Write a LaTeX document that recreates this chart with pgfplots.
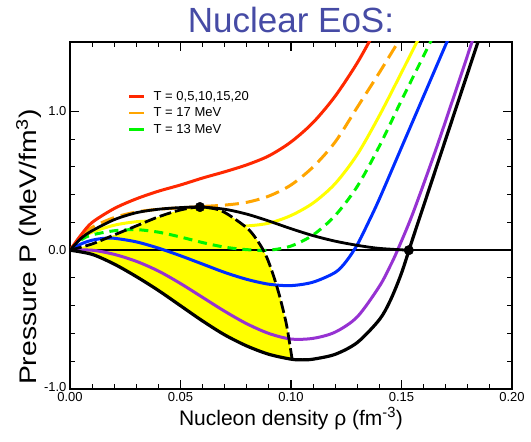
\documentclass[border=0pt]{standalone}
\usepackage{fontspec}
\setmainfont{Liberation Sans}
\usepackage{pgfplots}
\pgfplotsset{compat=1.18}
\usepgfplotslibrary{fillbetween}
\usetikzlibrary{calc}
\definecolor{cRed}{RGB}{255,40,0}
\definecolor{cOrange}{RGB}{255,165,0}
\definecolor{cYellow}{RGB}{255,255,0}
\definecolor{cGreen}{RGB}{0,245,0}
\definecolor{cBlue}{RGB}{0,45,255}
\definecolor{cPurple}{RGB}{150,50,210}
\definecolor{cTitle}{RGB}{70,75,165}
\begin{document}
\begin{tikzpicture}
\begin{axis}[
  name=ax,
  scale only axis, width=442pt, height=347pt,
  xmin=0, xmax=0.2, ymin=-1, ymax=1.5,
  xtick={0,0.05,0.1,0.15,0.2}, ytick={-1,0,1},
  yticklabels={\raisebox{4.5pt}{-1.0},0.0,1.0},
  minor x tick num=4, minor y tick num=4,
  scaled x ticks=false, scaled y ticks=false,
  tick align=inside, major tick length=9pt, minor tick length=5pt,
  major tick style={line width=1.1pt, black},
  minor tick style={line width=1.0pt, black},
  axis line style={line width=1.3pt},
  xticklabel style={/pgf/number format/fixed, /pgf/number format/fixed zerofill, /pgf/number format/precision=2, /pgf/number format/assume math mode=true},
  ticklabel style={font=\fontsize{13}{13}\selectfont},
  xlabel={Nucleon density ρ (fm\textsuperscript{-3})},
  xlabel style={at={(axis description cs:0.5,-0.104)}, anchor=base, font=\fontsize{21}{21}\selectfont},
  legend style={draw=none, fill=none, at={(axis description cs:0.131,0.865)}, anchor=north west, font=\fontsize{13}{13}\selectfont, row sep=2pt, column sep=6pt, inner sep=0pt},
  legend cell align=left,
  legend image code/.code={\draw[#1, line width=2.6pt] (0pt,0pt) -- (15pt,0pt);},
]
% invisible boundaries of the unstable region
\addplot[draw=none, smooth, name path=A, forget plot] coordinates {
(0,0) (0.01,-0.03) (0.02,-0.10) (0.03,-0.19) (0.04,-0.29) (0.05,-0.40) (0.06,-0.51) (0.07,-0.61) (0.08,-0.69) (0.09,-0.75) (0.1005,-0.786)};
\addplot[draw=none, smooth, name path=B, forget plot] coordinates {
(0,0) (0.01,0.045) (0.02,0.11) (0.03,0.175) (0.04,0.24) (0.05,0.29) (0.0588,0.311) (0.0679,0.288) (0.0754,0.216) (0.0814,0.14) (0.086,0.04) (0.089,-0.05) (0.092,-0.18) (0.095,-0.34) (0.098,-0.54) (0.1005,-0.786)};
\addplot[cYellow, forget plot] fill between[of=A and B];
% zero line
\addplot[black, line width=1.7pt, forget plot] coordinates {(0,0) (0.2,0)};
% T = 15
\addplot[cYellow, line width=3pt, smooth, forget plot] coordinates {
(0,0) (0.005,0.085) (0.01,0.13) (0.02,0.18) (0.03,0.205) (0.04,0.21) (0.05,0.20) (0.06,0.185) (0.07,0.175) (0.08,0.175) (0.09,0.195) (0.10,0.25) (0.11,0.34) (0.12,0.48) (0.13,0.69) (0.14,0.97) (0.15,1.28) (0.156,1.47) (0.158,1.53)};
% T = 13
\addplot[cGreen, line width=3pt, smooth, dash pattern=on 9pt off 6pt, forget plot] coordinates {
(0,0) (0.005,0.075) (0.01,0.11) (0.02,0.14) (0.03,0.148) (0.04,0.13) (0.05,0.095) (0.06,0.055) (0.07,0.022) (0.08,0.004) (0.09,0.0) (0.10,0.03) (0.11,0.11) (0.12,0.25) (0.13,0.46) (0.14,0.75) (0.15,1.08) (0.16,1.40) (0.164,1.53)};
% T = 17
\addplot[cOrange, line width=3pt, smooth, dash pattern=on 14pt off 7pt, forget plot] coordinates {
(0,0) (0.005,0.10) (0.01,0.165) (0.02,0.235) (0.03,0.275) (0.04,0.295) (0.05,0.305) (0.06,0.315) (0.07,0.325) (0.08,0.345) (0.09,0.39) (0.10,0.47) (0.11,0.60) (0.12,0.78) (0.13,1.03) (0.14,1.28) (0.15,1.54)};
% T = 20
\addplot[cRed, line width=3pt, smooth, forget plot] coordinates {
(0,0) (0.005,0.11) (0.01,0.20) (0.02,0.30) (0.03,0.37) (0.04,0.425) (0.05,0.47) (0.06,0.52) (0.07,0.565) (0.08,0.615) (0.09,0.68) (0.10,0.78) (0.11,0.92) (0.12,1.11) (0.13,1.35) (0.137,1.55)};
% T = 10
\addplot[cBlue, line width=3pt, smooth, forget plot] coordinates {
(0,0) (0.005,0.045) (0.01,0.072) (0.015,0.085) (0.02,0.086) (0.03,0.06) (0.04,0.015) (0.05,-0.04) (0.06,-0.10) (0.07,-0.16) (0.08,-0.21) (0.09,-0.245) (0.10,-0.255) (0.11,-0.23) (0.12,-0.16) (0.125,-0.08) (0.13,0.04) (0.135,0.20) (0.14,0.37) (0.15,0.74) (0.16,1.11) (0.17,1.48) (0.175,1.66)};
% T = 5
\addplot[cPurple, line width=3pt, smooth, forget plot] coordinates {
(0,0) (0.01,0.0) (0.02,-0.03) (0.03,-0.08) (0.04,-0.15) (0.05,-0.24) (0.06,-0.34) (0.07,-0.44) (0.08,-0.53) (0.09,-0.60) (0.10,-0.64) (0.11,-0.635) (0.12,-0.59) (0.13,-0.48) (0.14,-0.26) (0.145,-0.11) (0.1482,0) (0.155,0.26) (0.165,0.70) (0.175,1.17) (0.185,1.65)};
% T = 0
\addplot[black, line width=3.2pt, smooth, forget plot] coordinates {
(0,0) (0.01,-0.03) (0.02,-0.10) (0.03,-0.19) (0.04,-0.29) (0.05,-0.40) (0.06,-0.51) (0.07,-0.61) (0.08,-0.69) (0.09,-0.75) (0.10,-0.785) (0.105,-0.79) (0.11,-0.785) (0.12,-0.75) (0.13,-0.665) (0.14,-0.50) (0.145,-0.36) (0.15,-0.165) (0.155,0.08) (0.16,0.32) (0.17,0.80) (0.18,1.28) (0.19,1.76)};
% spinodal
\addplot[black, line width=2.8pt, smooth, dash pattern=on 12pt off 4pt, forget plot] coordinates {
(0,0) (0.01,0.045) (0.02,0.11) (0.03,0.175) (0.04,0.24) (0.05,0.29) (0.0588,0.311) (0.0679,0.288) (0.0754,0.216) (0.0814,0.14) (0.086,0.04) (0.089,-0.05) (0.092,-0.18) (0.095,-0.34) (0.098,-0.54) (0.1005,-0.786)};
% coexistence
\addplot[black, line width=2.8pt, smooth, forget plot] coordinates {
(0,0) (0.005,0.085) (0.01,0.14) (0.02,0.22) (0.03,0.27) (0.04,0.295) (0.05,0.307) (0.0588,0.311) (0.07,0.295) (0.08,0.26) (0.09,0.21) (0.10,0.155) (0.11,0.105) (0.12,0.065) (0.13,0.035) (0.14,0.013) (0.1533,0)};
\addplot[black, only marks, mark=*, mark size=4.8pt, forget plot] coordinates {(0.0588,0.311) (0.1533,0)};
\addlegendimage{cRed}
\addlegendentry{T = 0,5,10,15,20}
\addlegendimage{cOrange}
\addlegendentry{T = 17 MeV}
\addlegendimage{cGreen}
\addlegendentry{T = 13 MeV}
\end{axis}
\node[anchor=base, font=\fontsize{35}{35}\selectfont, text=cTitle] at ($(ax.north)+(0pt,9pt)$) {Nuclear EoS:};
\node[rotate=90, anchor=base, font=\fontsize{24}{24}\selectfont] at ($(ax.south west)+(-33pt,142pt)$) {\scalebox{1.18}[1]{Pressure P (MeV/fm\textsuperscript{3})}};
\pgfresetboundingbox
\path ($(ax.south west)+(-70pt,-52pt)$) rectangle ($(ax.north east)+(19pt,42pt)$);
\end{tikzpicture}
\end{document}
